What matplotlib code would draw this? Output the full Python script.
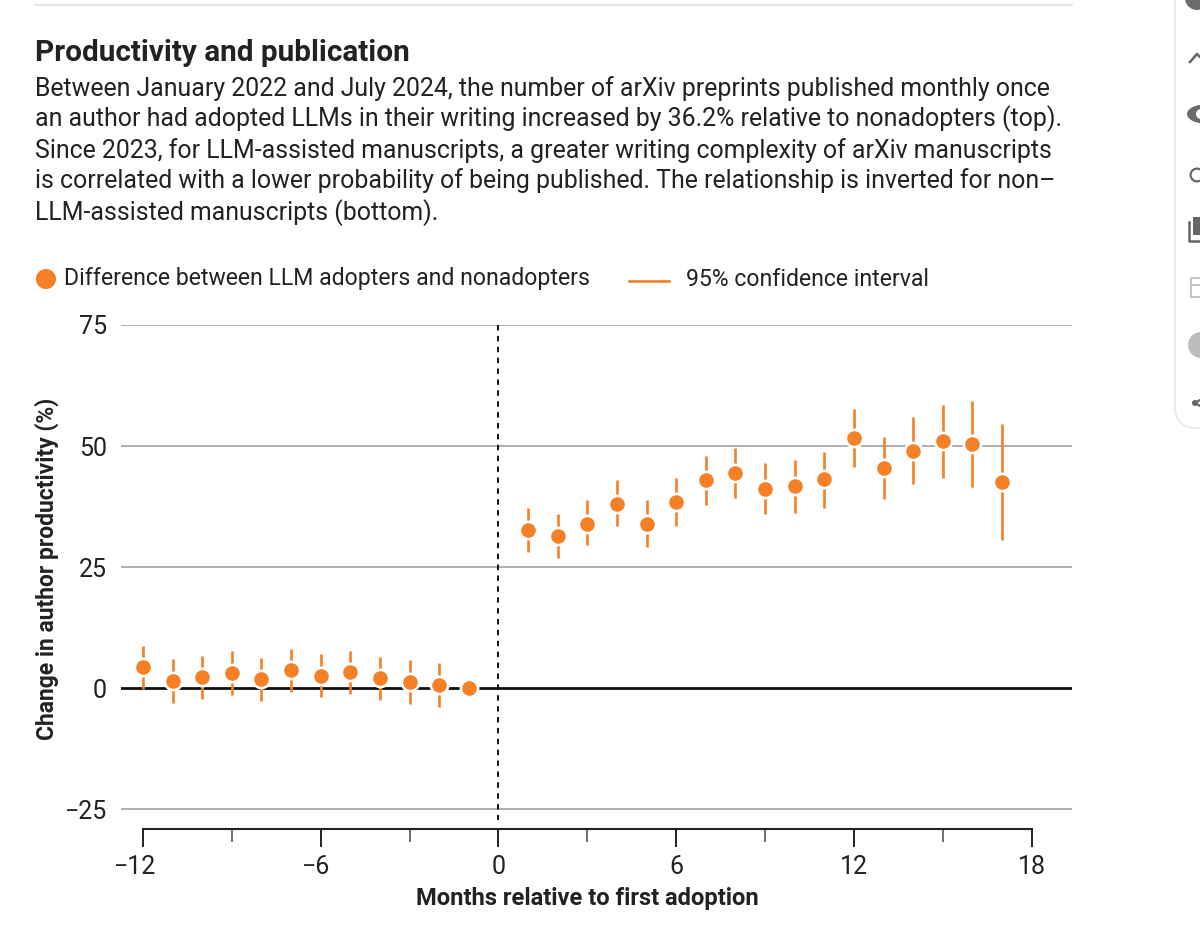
import matplotlib
matplotlib.use('Agg')
import matplotlib.pyplot as plt
from matplotlib.lines import Line2D
from matplotlib.patches import Circle, Ellipse, FancyBboxPatch, Rectangle, Wedge
from matplotlib.transforms import ScaledTranslation

plt.rcParams['font.family'] = ['Roboto', 'DejaVu Sans']

#Data
months = [-12, -11, -10, -9, -8, -7, -6, -5, -4, -3, -2, -1,
          1, 2, 3, 4, 5, 6, 7, 8, 9, 10, 11, 12, 13, 14, 15, 16, 17]
change = [4.3, 1.5, 2.3, 3.1, 1.8, 3.7, 2.5, 3.3, 2.0, 1.2, 0.6, 0,
          32.6, 31.4, 34.0, 38.1, 33.9, 38.4, 42.9, 44.4, 41.2, 41.7, 43.1, 51.6, 45.5, 49.0, 51.0, 50.4, 42.6]
ci_high = [8.8, 6.0, 6.7, 7.6, 6.3, 8.1, 7.0, 7.7, 6.5, 5.8, 5.1, 0,
           37.2, 36.0, 38.8, 42.9, 38.8, 43.4, 47.9, 49.6, 46.4, 47.2, 48.8, 57.6, 51.8, 55.9, 58.5, 59.4, 54.6]
ci_low = [-0.1, -3.0, -2.2, -1.4, -2.6, -0.8, -1.9, -1.2, -2.5, -3.2, -3.9, 0,
          28.1, 26.8, 29.5, 33.4, 29.2, 33.5, 37.9, 39.2, 36.0, 36.2, 37.3, 45.6, 39.1, 42.1, 43.4, 41.6, 30.6]
y_ticks = [-25, 0, 25, 50, 75]
y_labels = ['\u221225', '0', '25', '50', '75']
x_major = [-12, -6, 0, 6, 12, 18]
x_minor = [-9, -3, 3, 9, 15]
x_labels = ['\u221212', '\u22126', '0', '6', '12', '18']

title = 'Productivity and publication'
body = ['Between January 2022 and July 2024, the number of arXiv preprints published monthly once',
        'an author had adopted LLMs in their writing increased by 36.2% relative to nonadopters (top).',
        'Since 2023, for LLM-assisted manuscripts, a greater writing complexity of arXiv manuscripts',
        'is correlated with a lower probability of being published. The relationship is inverted for non\u2013',
        'LLM-assisted manuscripts (bottom).']
body_y = [89, 119, 151, 181, 213]

ORANGE = '#f58025'
DARK = '#222222'
GRID = '#999999'
W, H = 1200, 938

fig = plt.figure(figsize=(W / 100, H / 100), dpi=100)

def fx(px):
    return px / W

def fy(py):
    return 1 - py / H

#Axes spans pixel 121..1072 and 325..829
ax = fig.add_axes([fx(121), fy(829), fx(1072 - 121), (829 - 325) / H])
ax.set_xlim(-12.74, 19.36)
ax.set_ylim(-29.1, 75)
ax.patch.set_alpha(0)

for s in ['top', 'left', 'right']:
    ax.spines[s].set_visible(False)
ax.spines['bottom'].set_bounds(-12, 18)
ax.spines['bottom'].set_linewidth(1.5)
ax.spines['bottom'].set_color(DARK)

ax.set_yticks(y_ticks)
ax.set_yticklabels(y_labels, fontsize=18, color=DARK)
ax.tick_params(axis='y', length=0, pad=10)
ax.set_xticks(x_major)
ax.set_xticklabels(x_labels, fontsize=18, color=DARK)
ax.set_xticks(x_minor, minor=True)
ax.tick_params(axis='x', which='major', length=13, width=1.4, color=DARK, pad=6)
ax.tick_params(axis='x', which='minor', length=9, width=1.2, color='#555555')

#The minus sign hangs left of the tick, the digits stay centred on it
shift = {'\u221212': -6, '\u22126': -3.5}
for lab in ax.get_xticklabels():
    if lab.get_text() in shift:
        lab.set_transform(lab.get_transform() + ScaledTranslation(shift[lab.get_text()] / 72, 0, fig.dpi_scale_trans))

for v in y_ticks:
    if v == 0:
        ax.axhline(v, color='#111111', lw=2, zorder=1)
    else:
        ax.axhline(v, color=GRID, lw=1.1, zorder=1)
ax.plot([0, 0], [75, -27.2], color='#111111', lw=1.4, dashes=(2.8, 2.8), zorder=2)

ax.vlines(months, ci_low, ci_high, color=ORANGE, lw=1.9, zorder=3)
ax.plot(months, change, 'o', ms=12.4, mfc=ORANGE, mec='white', mew=1.9, zorder=4, clip_on=False)

fig.text(fx(587.5), fy(898.5), 'Months relative to first adoption', ha='center', va='center',
         fontsize=17.1, fontweight='bold', color=DARK)
fig.text(fx(47), fy(568.5), 'Change in author productivity (%)', rotation=90, ha='center', va='center',
         fontsize=16.5, fontweight='bold', color=DARK)

#Header text
fig.text(fx(35), fy(53), title, fontsize=21.4, fontweight='bold', color=DARK, va='center')
for line, py in zip(body, body_y):
    fig.text(fx(35), fy(py), line, fontsize=17.92, color=DARK, va='center')

#Page decoration in pixel coordinates
deco = fig.add_axes([0, 0, 1, 1], zorder=5)
deco.set_xlim(0, W)
deco.set_ylim(H, 0)
deco.axis('off')
deco.add_line(Line2D([35, 1072], [5, 5], color='#e6e6e6', lw=1.5))

#Legend
deco.add_patch(Circle((46, 279), 10, color=ORANGE, lw=0))
deco.text(64, 279, 'Difference between LLM adopters and nonadopters', fontsize=16.6, color=DARK, va='center')
deco.add_line(Line2D([629, 669], [281, 281], color=ORANGE, lw=1.9))
deco.text(686, 279, '95% confidence interval', fontsize=16.6, color=DARK, va='center')

#Side panel of the web page, cut off at the right edge
deco.add_patch(FancyBboxPatch((1175, -60), 80, 488, boxstyle='round,pad=0,rounding_size=22',
                              fc='white', ec='#e8e8e8', lw=1.2))
deco.add_patch(Circle((1197, -2), 12, color='#6b6b6b', lw=0))
deco.add_line(Line2D([1190, 1197, 1200], [62, 54, 57], color='#666666', lw=1.8))
deco.add_patch(Ellipse((1205, 114), 36, 19, color='#6b6b6b', lw=0))
deco.add_patch(Circle((1201, 114), 5, color='white', lw=0))
deco.add_patch(Wedge((1197, 175), 7.5, 60, 320, width=2.2, color='#666666', lw=0))
deco.add_patch(Rectangle((1193, 217), 10, 18, color='#666666', lw=0))
deco.add_line(Line2D([1189, 1189, 1200], [222, 241, 241], color='#666666', lw=1.8))
deco.add_patch(Rectangle((1191, 278), 14, 19, fc='none', ec='#c4c4c4', lw=1.5))
deco.add_line(Line2D([1191, 1200], [285, 285], color='#c4c4c4', lw=1.5))
deco.add_patch(Circle((1201, 345), 13, color='#bdbdbd', lw=0))
deco.add_patch(Circle((1195, 403), 3, color='#666666', lw=0))
deco.add_line(Line2D([1195, 1200], [403, 400], color='#666666', lw=1.5))
deco.add_line(Line2D([1195, 1200], [403, 406], color='#666666', lw=1.5))

fig.savefig('out.png', dpi=100, facecolor='white')
